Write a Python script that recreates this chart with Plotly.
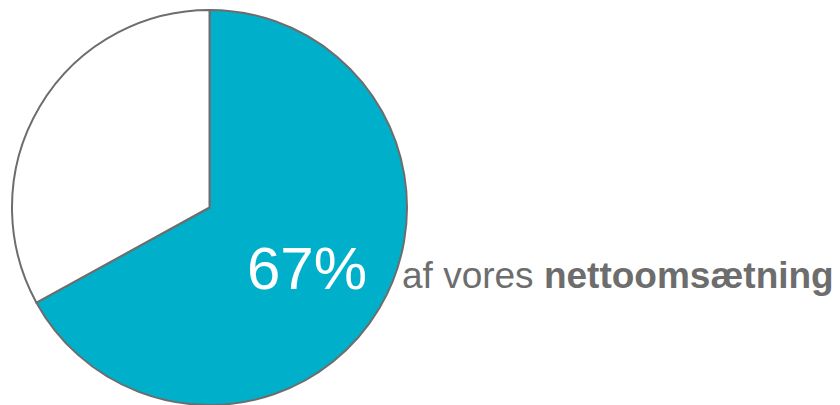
import plotly.graph_objects as go

labels = ["Andel", "Øvrige"]
values = [67, 33]
colors = ["#00B0CA", "#FFFFFF"]
caption_regular = "af vores "
caption_bold = "nettoomsætning"

# page body has an 8px default margin, so the figure is sized to fit the window
W, H = 832, 397
fig = go.Figure()
fig.add_trace(go.Pie(
    labels=labels, values=values, sort=False, direction="clockwise",
    marker=dict(colors=colors, line=dict(color="#6D6D6D", width=2)),
    textinfo="none", hoverinfo="label+percent", showlegend=False,
    domain=dict(x=[0, 403 / W], y=[0, 1]),
))

share = round(values[0] / sum(values) * 100)
fig.add_annotation(
    x=299 / W, y=1 - 260 / H, xref="paper", yref="paper",
    text=f"{share}%", showarrow=False, xanchor="center", yanchor="middle",
    font=dict(family="Liberation Sans, Arial", size=60, color="#FFFFFF"),
)
fig.add_annotation(
    x=392 / W, y=1 - 267 / H, xref="paper", yref="paper",
    text=f"{caption_regular}<b>{caption_bold}</b>", showarrow=False,
    xanchor="left", yanchor="middle",
    font=dict(family="Liberation Sans, Arial", size=37, color="#6D6D6D"),
)

fig.update_layout(
    width=W, height=H, margin=dict(l=0, r=0, t=2, b=0),
    paper_bgcolor="#FFFFFF", plot_bgcolor="#FFFFFF",
)
fig.write_html("out.html")
